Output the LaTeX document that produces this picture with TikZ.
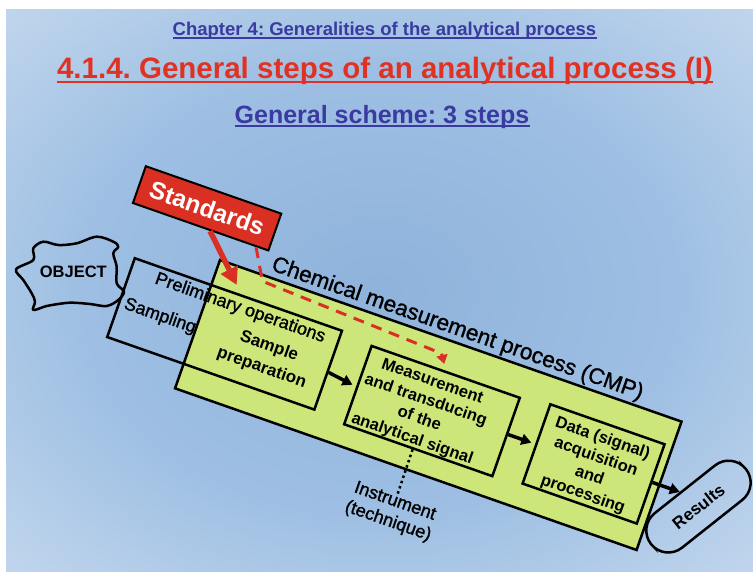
\documentclass[tikz,border=0pt]{standalone}
\usepackage{fontspec}
\setmainfont{Liberation Sans}
\newfontfamily\medfont[FakeBold=1.2]{Liberation Sans}
\usetikzlibrary{arrows.meta,calc}
\definecolor{cmpgreen}{RGB}{205,230,122}
\definecolor{stdred}{RGB}{218,48,36}
\definecolor{titlered}{RGB}{224,50,35}
\definecolor{titleblue}{RGB}{58,58,160}
\pgfdeclareradialshading{bgshade}{\pgfpoint{0bp}{0bp}}{rgb(0bp)=(0.56,0.70,0.86);rgb(20bp)=(0.62,0.75,0.89);rgb(36bp)=(0.76,0.84,0.93);rgb(48bp)=(0.87,0.88,0.95);rgb(60bp)=(0.94,0.90,0.97);rgb(71bp)=(0.96,0.91,0.98)}
\newcommand\myfs[2]{\fontsize{#1}{#2}\selectfont}
\frenchspacing
\begin{document}
\begin{tikzpicture}[x=1pt,y=-1pt,
  box/.style={draw=black, line width=2.5pt, inner sep=0pt, transform shape},
  lbl/.style={inner sep=0pt, transform shape, align=center},
  arr/.style={line width=3.5pt, -{Triangle[length=10pt,width=11pt]}, shorten >=4pt},
  ttl/.style={inner sep=0pt, anchor=base}]
\useasboundingbox (0,0) rectangle (753,572);
\fill[white] (0,0) rectangle (753,572);
\shade[shading=bgshade] (6,10) rectangle (753,572);

% titles
\node[ttl, font=\bfseries\myfs{18.5}{20}, text=titleblue] (ch) at (384.5,35.7) {Chapter 4: Generalities of the analytical process};
\draw[titleblue, line width=1.3pt] ([yshift=-2.2pt]ch.base west) -- ([yshift=-2.2pt]ch.base east);
\node[ttl, font=\bfseries\myfs{29.5}{32}, text=titlered] (tt) at (385,79) {4.1.4. General steps of an analytical process (I)};
\draw[titlered, line width=2.6pt] ([yshift=-3pt]tt.base west) -- ([yshift=-3pt]tt.base east);
\node[ttl, font=\bfseries\myfs{25}{28}, text=titleblue] (gs) at (382,123.3) {General scheme: 3 steps};
\draw[titleblue, line width=1.8pt] ([yshift=-2.5pt]gs.base west) -- ([yshift=-2.5pt]gs.base east);

% object cloud
\draw[line width=2.5pt, line join=round] plot[smooth cycle, tension=0.55] coordinates {
 (16,269.3) (33.3,260) (33.3,248.3) (43.3,241.7) (58.3,245) (76.7,243.3) (96.7,236.7)
 (113.3,241.7) (118.3,246.7) (113.3,253.3) (116.7,266.7) (116.7,283.3) (124,291.7)
 (118.3,300) (106.7,306) (90,304) (73.3,302.7) (63.3,303.3) (46.7,306) (33.3,310)
 (35,301.7) (31.7,293.3) (23.3,280)};
\node[inner sep=0pt, font=\bfseries\myfs{16.5}{18}] (obj) at (73.3,271.7) {OBJECT};

\begin{scope}[shift={(220,260)}, rotate=-19.3]
  \node[box, fill=cmpgreen, minimum width=489pt, minimum height=136pt] (cmp) at (244.5,68) {};
  \node[box, minimum width=219.5pt, minimum height=83.5pt] (prelim) at (28.75,68.25) {};
  \node[box, minimum width=157pt, minimum height=83pt] (meas) at (250,72.5) {};
  \node[box, minimum width=121pt, minimum height=84pt] (data) at (420,69) {};
  \node[box, line width=2pt, fill=stdred, minimum width=143.5pt, minimum height=39pt,
        text=white, font=\bfseries\myfs{24.5}{26}] (std) at (-29.25,-44.5) {Standards};
  \node[draw=black, line width=2.5pt, rounded corners=22pt, minimum width=121pt, minimum height=44pt,
        inner sep=0pt, transform shape, rotate=57.7, font=\bfseries\myfs{17}{19}] (res) at (533.1,74.6) {Results};

  % labels
  \node[lbl, font=\medfont\myfs{22.4}{24}] (cmplbl) at (247,-13) {Chemical measurement process (CMP)};
  \node[lbl, font=\medfont\myfs{18}{20}] (prelbl) at (35,39) {Preliminary operations};
  \node[lbl, font=\medfont\myfs{18}{20}] (samp) at (-38,73) {Sampling};
  \node[lbl, font=\bfseries\myfs{17}{22.6}] (prep) at (75,77) {Sample\\preparation};
  \node[lbl, font=\bfseries\myfs{16.5}{19.8}] (meastxt) at (240.5,75.4) {Measurement\\and transducing\\of the\\[1.5pt]analytical signal};
  \node[lbl, font=\bfseries\myfs{16.5}{19.8}] (datatxt) at (420,71.9) {Data (signal)\\acquisition\\and\\processing};
  \node[lbl, font=\medfont\myfs{18}{21}] (instr) at (245,181) {Instrument\\(technique)};

  % connectors
  \coordinate (rtip) at (510.7,67);
  \coordinate (dtip) at (246,24);
  \coordinate (dbend1) at (47,6);
  \coordinate (dbend2) at (240,15);
  \draw[arr] ([yshift=-2pt]prelim.east) -- ([yshift=-2pt]meas.west);
  \draw[arr] ([yshift=3pt]meas.west -| meas.east) -- ([yshift=3pt]meas.west -| data.west);
  \draw[arr, shorten >=0pt] ([yshift=2pt]data.east) -- (rtip);
  \draw[stdred, line width=5.5pt, -{Triangle[length=17pt,width=18pt]}]
     ($(std.south west)!0.571!(std.south east)$) -- (24,18);
  \draw[stdred, line width=3pt, dash pattern=on 11pt off 8pt, -{Triangle[length=9pt,width=11pt]}]
     ($(std.south west)!0.906!(std.south east)$) -- (dbend1) -- (dbend2) -- (dtip);
  \draw[line width=2.5pt, dash pattern=on 2.5pt off 3pt]
     ($(meas.south west)!0.465!(meas.south east)$) -- (instr.north);
\end{scope}
\end{tikzpicture}
\end{document}
